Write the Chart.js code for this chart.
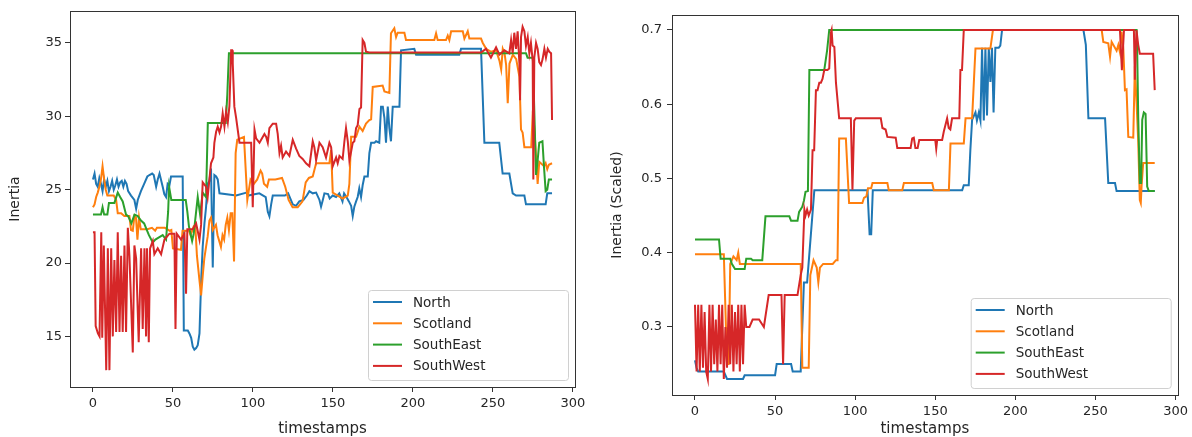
<!DOCTYPE html>
<html>
<head>
<meta charset="utf-8">
<script src="https://cdn.jsdelivr.net/npm/chart.js@4"></script>
<style>
  html, body { margin: 0; padding: 0; background: #fff; }
  #wrap { position: relative; width: 1192px; height: 437px; }
  canvas { position: absolute; top: 0; }
</style>
</head>
<body>
<div id="wrap">
  <canvas id="left" width="590" height="437" style="left:0"></canvas>
  <canvas id="right" width="602" height="437" style="left:590px"></canvas>
</div>
<script>
// region names and colours (matplotlib default cycle)
const regions = ["North", "Scotland", "SouthEast", "SouthWest"];
const regionColors = ["#1f77b4", "#ff7f0e", "#2ca02c", "#d62728"];

// tick labels
const xTicks = [0, 50, 100, 150, 200, 250, 300];
const inertiaTicks = [15, 20, 25, 30, 35];
const scaledTicks = [0.3, 0.4, 0.5, 0.6, 0.7];

// [timestamp, inertia]
const northInertia = [[0,25.7],[1,26.1],[2,25.4],[3,25.2],[4,25.8],[5,25.4],[6,24.9],[7,25.7],[8,25.2],[9,25.6],[10,24.9],[11,25.2],[12,25.6],[13,25.0],[14,25.3],[15,25.7],[16,25.2],[17,25.5],[18,25.6],[19,25.2],[20,25.6],[21,25.4],[22,24.9],[23.8,24.6],[25.9,24.3],[27,23.7],[28,24.3],[30,24.9],[32,25.4],[34,25.9],[35.3,26.0],[37,26.1],[38,26.0],[39.5,25.2],[40.5,25.7],[41.6,26.1],[43.6,25.2],[44.6,24.7],[45.7,24.5],[46.7,25.4],[47.8,25.3],[48.8,25.9],[56.1,25.9],[56.8,15.4],[59.3,15.4],[60.3,15.2],[61.4,14.9],[62.4,14.3],[63.4,14.1],[64.5,14.2],[65.5,14.4],[66.6,15.2],[67.6,18.7],[68.6,21.1],[69.7,22.7],[70.7,23.8],[71.7,25.4],[72.8,25.6],[73.8,26.45],[74.9,19.7],[75.9,26.0],[77,25.9],[78,25.7],[79.1,24.75],[89.5,24.6],[96,24.8],[97,24.6],[104,24.75],[108,24.5],[109.3,23.5],[110.3,23.2],[111.4,24.0],[112.4,24.6],[120,24.6],[122,24.75],[124.9,24.0],[127,23.9],[129,24.2],[131.6,24.3],[133.7,24.6],[135.3,24.9],[137.4,24.75],[139.5,24.8],[141.6,24.3],[142.6,23.84],[143.7,24.3],[144.7,24.75],[147,24.7],[148,24.4],[149.9,24.6],[152,24.5],[154,24.75],[156,24.2],[157,24.75],[159,24.4],[160,24.2],[161.4,23.9],[162.4,23.2],[163.4,23.84],[164.5,24.2],[165.5,24.5],[166.5,25.1],[167.6,24.5],[168.6,25.3],[169.7,25.9],[171.8,25.9],[172.8,27.5],[173.9,28.2],[176,28.2],[177,28.3],[179,28.2],[180.1,30.66],[181.2,30.66],[182.2,29.9],[183.2,28.2],[184.3,30.66],[185.3,29.2],[186.3,28.3],[187.4,30.66],[191.6,30.66],[192.6,34.5],[200.9,34.6],[202,34.2],[229,34.2],[230.1,34.6],[242.6,34.6],[244.7,28.2],[254,28.2],[256.1,26.1],[260.3,26.1],[262.4,24.75],[264.5,24.6],[269.7,24.6],[270.7,24.0],[283,24.0],[284,24.75],[287,24.75]];
const scotlandInertia = [[0,23.8],[1,24.0],[2,24.5],[3,24.8],[4,25.2],[5,25.7],[6,26.6],[7,25.7],[8,25.0],[9,24.6],[13,24.6],[14.5,24.3],[15.5,23.4],[17.6,23.4],[19.6,23.2],[22.8,23.2],[23.8,22.25],[24.9,22.2],[25.9,23.2],[26.9,23.1],[27.8,21.6],[28.8,23.1],[29.9,22.3],[34,22.3],[36.9,22.4],[38.9,22.2],[40,22.4],[45,22.4],[48,22.2],[49,22.25],[50,21.0],[55,20.9],[56,22.2],[60,22.2],[61,21.9],[63,22.5],[64,22.5],[65,20.5],[66.6,18.8],[67.6,17.8],[68.6,19.1],[69.6,20.3],[70.7,21.1],[71.7,21.8],[72.8,22.9],[73.8,23.1],[74.9,22.25],[76.9,22.6],[77.9,21.9],[80,21.1],[81,21.9],[82,21.6],[83,22.6],[84,23.1],[85,22.25],[86.1,23.4],[87.1,23.4],[88.2,20.1],[89.2,27.5],[90.2,28.4],[94.4,28.6],[96.5,24.3],[98.5,25.7],[100.6,25.4],[102.7,25.7],[104.8,26.3],[105.8,26.1],[106.9,25.4],[108.9,25.2],[110,25.7],[114,25.7],[118.2,25.8],[120.2,25.2],[122.3,24.3],[124.8,23.8],[128,23.8],[131,24.2],[133,25.5],[135,25.8],[137.4,25.9],[139.5,26.8],[147.8,26.8],[148.9,27.7],[149.9,24.8],[156.1,24.4],[159.3,24.6],[160.3,25.4],[161.4,28.6],[164.5,28.6],[166.6,29.3],[168.6,29.0],[170.7,29.5],[172.8,29.75],[173.9,29.8],[174.9,32.0],[181.1,32.1],[182.2,31.7],[185.3,31.6],[186.3,35.66],[188.4,36.0],[189.5,35.4],[190.5,35.7],[194.7,35.7],[195.7,35.2],[213.4,35.2],[214.5,35.66],[215.5,35.2],[220.7,35.2],[221.8,35.5],[222.8,35.2],[223.9,35.8],[231.2,35.8],[232.2,35.3],[234.3,35.8],[235.3,35.3],[242.6,35.3],[243.7,35.0],[245.8,34.6],[248.9,34.4],[252,34.5],[254.1,33.8],[255.2,33.2],[256.2,34.6],[257.3,34.3],[258.3,33.5],[259.3,30.9],[260.4,33.6],[262.5,34.2],[264.6,33.9],[266.6,32.7],[267.6,29.1],[268.6,28.9],[269.7,27.9],[274,27.9],[275,30.4],[276,29.1],[277,27.25],[278,25.4],[279,26.9],[280,26.8],[282,26.6],[283,26.8],[284,26.4],[285,26.7],[287,26.8]];
const southEastInertia = [[0,23.3],[5,23.3],[6,23.8],[7,23.3],[9,23.3],[10,24.1],[13.4,24.1],[15.5,24.8],[17,24.5],[18.6,24.2],[20.7,23.3],[22,23.2],[24,22.7],[26,23.3],[28,23.2],[30,22.9],[32,22.7],[33.5,22.3],[35,21.9],[37.4,21.4],[39,21.6],[40.5,21.7],[43.6,21.9],[45.7,21.6],[47,23.5],[47.6,25.2],[49,24.3],[58,24.3],[59,23.5],[60,22.5],[62,21.5],[63,22.0],[65.5,24.5],[67,23.3],[68.6,24.8],[70.7,24.5],[71.8,29.55],[83,29.55],[84,31.5],[85,34.3],[270.7,34.3],[271.7,34.0],[275,34.0],[276,30.0],[277,26.0],[278,27.0],[279,28.2],[281,28.3],[282,26.5],[283,24.9],[284,25.0],[285,25.7],[287,25.7]];
const southWestInertia = [[0,22.1],[1,22.1],[1.7,15.7],[3.1,15.2],[4.1,15.0],[5.2,22.1],[5.8,14.9],[6.8,21.2],[8.3,12.7],[9.3,21.0],[10.3,12.7],[11.4,21.0],[12.4,15.0],[13.4,20.2],[14.5,15.3],[15.5,22.1],[16.6,15.3],[17.6,20.5],[18.6,15.3],[19.7,21.2],[20.7,15.3],[21.8,22.4],[22.8,20.5],[24.9,13.9],[25.9,21.2],[27,20.3],[28.6,14.6],[30.1,21.0],[31.1,15.5],[32.2,21.0],[33.2,15.0],[33.8,21.0],[34.9,14.6],[35.7,21.0],[37.4,21.5],[38.4,20.6],[40.5,21.0],[42.6,20.6],[44.7,21.6],[47.8,22.0],[50.9,22.0],[51.6,15.5],[52.4,22.0],[55.1,21.6],[57.2,22.0],[58.2,17.9],[59,22.3],[62.4,22.3],[64.5,22.7],[66.6,21.6],[67.6,22.6],[68.6,25.5],[70.7,25.2],[71.7,24.5],[73.8,26.8],[75.3,27.2],[75.9,28.2],[77,28.95],[78,29.3],[79.1,28.9],[80.1,29.3],[81.1,30.2],[82.2,29.3],[83.2,30.3],[84.3,29.6],[85.3,30.7],[86.4,34.5],[87,34.5],[87.4,33.6],[88.4,30.66],[89.5,29.9],[91.6,28.2],[98.9,28.2],[99.9,23.8],[101,29.1],[102,28.5],[104.1,28.2],[107.2,28.8],[108.3,28.6],[109.3,28.2],[110.3,29.2],[112.4,29.5],[114.5,29.5],[115.5,28.8],[116.6,27.5],[117.6,28.0],[118.6,27.2],[120.7,27.6],[122.8,27.3],[124.9,28.4],[127,27.8],[129,27.3],[131.1,27.1],[133.2,26.8],[135.3,26.6],[137.4,28.3],[138.4,27.9],[139.5,27.0],[141.6,28.2],[143.6,27.9],[145.7,27.2],[147.8,28.2],[148.9,27.9],[149.9,26.6],[152,27.2],[153,26.8],[154.1,27.3],[156.1,27.1],[157.2,28.3],[158.2,29.2],[159.3,28.3],[160.3,27.0],[161.4,27.6],[162.4,28.2],[163.4,28.3],[164.5,29.2],[165.5,29.4],[166.6,30.5],[167.6,30.6],[168.6,35.2],[169.7,35.0],[170.7,34.4],[172.8,34.35],[242.6,34.35],[245.7,34.6],[248.8,34.0],[252,34.7],[254.1,34.2],[257.2,34.5],[260.3,34.3],[261.4,35.2],[262.4,34.3],[263.4,35.7],[264.5,34.6],[265.5,35.8],[266.6,33.6],[267,31.1],[267.6,35.4],[268.6,36.1],[269.7,35.8],[270.7,34.8],[271.8,35.4],[272.8,34.3],[273.8,35.0],[274.9,33.8],[275.3,25.7],[275.9,34.0],[277,35.0],[278,34.6],[279,33.7],[280.1,33.5],[281.1,33.9],[282.2,34.6],[283.2,34.0],[284.3,34.6],[285.3,34.4],[286.4,34.3],[287,29.75]];

// [timestamp, scaled inertia]
const northScaled = [[0,0.255],[1,0.245],[2,0.24],[18,0.24],[20,0.23],[30,0.23],[31,0.235],[50,0.235],[51,0.25],[60,0.25],[61,0.24],[66,0.24],[68,0.36],[70,0.36],[74.5,0.484],[107.7,0.484],[109,0.425],[110,0.425],[111,0.484],[166.8,0.484],[167.8,0.491],[170.9,0.491],[171.9,0.538],[173,0.579],[175.1,0.589],[176,0.578],[177.2,0.589],[178.2,0.578],[179.2,0.676],[180.3,0.578],[181.3,0.676],[182.3,0.585],[183.4,0.676],[184.4,0.63],[185.4,0.676],[186.4,0.589],[187.5,0.676],[189.6,0.676],[190.6,0.679],[191.7,0.7],[242.5,0.7],[244,0.68],[245.6,0.581],[256,0.581],[258,0.494],[262.2,0.494],[263.2,0.483],[287,0.483]];
const scotlandScaled = [[0,0.398],[18,0.398],[20,0.25],[21,0.25],[22,0.385],[24,0.395],[26,0.39],[27,0.4],[28,0.385],[66,0.385],[67,0.245],[71,0.245],[72,0.37],[74,0.39],[76,0.38],[77,0.36],[78,0.38],[80,0.385],[86,0.385],[88,0.39],[89,0.39],[90,0.554],[94.2,0.554],[96.2,0.467],[104.5,0.467],[105.5,0.474],[107,0.476],[108,0.487],[110,0.487],[110.8,0.494],[120.1,0.494],[121,0.484],[129.4,0.484],[130.4,0.494],[148.1,0.494],[149.1,0.484],[158.5,0.484],[159.5,0.547],[167.8,0.547],[168.9,0.581],[173,0.581],[175.1,0.675],[184.4,0.675],[186,0.7],[253.9,0.7],[254.9,0.684],[258,0.682],[259.1,0.664],[260.1,0.684],[263.2,0.672],[264.3,0.68],[265.3,0.67],[266.3,0.698],[267.4,0.675],[268.4,0.619],[269.4,0.62],[270.5,0.556],[273.6,0.555],[274.6,0.651],[275.5,0.61],[276.7,0.55],[277.7,0.471],[278.3,0.467],[278.8,0.49],[279.8,0.521],[287,0.521]];
const southEastScaled = [[0,0.418],[15,0.418],[16,0.392],[22,0.392],[23,0.385],[25,0.378],[31,0.378],[32,0.392],[35,0.392],[36,0.39],[42,0.39],[44,0.449],[58.9,0.449],[60,0.443],[64,0.443],[65,0.455],[67,0.462],[68,0.47],[69,0.482],[70.5,0.483],[71.4,0.646],[80.7,0.646],[82.5,0.673],[83.8,0.7],[275.7,0.7],[276,0.68],[276.7,0.583],[277.7,0.494],[278.5,0.494],[279.2,0.579],[280.2,0.589],[281.3,0.587],[282.3,0.489],[283.3,0.483],[287,0.483]];
const southWestScaled = [[0,0.33],[1,0.24],[2,0.33],[3,0.24],[4,0.33],[5,0.245],[6,0.32],[7,0.24],[8,0.23],[9,0.33],[10,0.24],[11,0.33],[12,0.25],[13,0.31],[14,0.24],[15,0.33],[16,0.25],[17,0.33],[18,0.23],[19,0.3],[20,0.245],[21,0.33],[22,0.25],[23,0.33],[24,0.24],[25,0.32],[26,0.25],[27,0.33],[28,0.24],[29,0.33],[30,0.25],[31,0.33],[32,0.3],[34,0.3],[36,0.31],[40,0.31],[43,0.3],[46,0.343],[54,0.343],[55,0.25],[56,0.343],[64,0.343],[66,0.37],[67,0.38],[68.3,0.458],[69,0.45],[70,0.458],[71,0.45],[72.4,0.458],[73.4,0.538],[74.4,0.538],[75.5,0.619],[76.5,0.619],[77.6,0.629],[78.6,0.629],[79.6,0.634],[80.7,0.646],[82.7,0.646],[83.8,0.648],[84.8,0.696],[85.3,0.7],[85.9,0.679],[87,0.677],[88,0.629],[90,0.581],[97.3,0.581],[98.3,0.485],[99.4,0.578],[100.4,0.581],[116,0.581],[117,0.568],[119,0.566],[120.1,0.556],[125.3,0.555],[126.3,0.541],[134.6,0.541],[135.6,0.554],[136.6,0.555],[137.6,0.541],[139,0.541],[140,0.552],[150,0.552],[150.6,0.54],[151.2,0.552],[154.3,0.552],[155.3,0.563],[157.4,0.581],[158.4,0.568],[159.4,0.566],[160.5,0.581],[165,0.581],[165.7,0.646],[166.7,0.646],[167.8,0.7],[265.3,0.7],[266.5,0.646],[267.8,0.7],[274,0.7],[274.6,0.633],[275.6,0.7],[276.7,0.68],[277.7,0.668],[286,0.668],[287,0.619]];

const FONT = "'DejaVu Sans', sans-serif";
const TEXT = "#262626";

// black box round the plot area, like matplotlib spines
const framePlugin = {
  id: "frame",
  afterDatasetsDraw(chart) {
    const { ctx, chartArea: a } = chart;
    ctx.save();
    ctx.strokeStyle = "#333";
    ctx.lineWidth = 1;
    ctx.strokeRect(Math.round(a.left) + 0.5, Math.round(a.top) + 0.5,
      Math.round(a.right - a.left), Math.round(a.bottom - a.top));
    ctx.restore();
  }
};

// legend box in the lower right corner of the plot area
const boxLegend = {
  id: "boxLegend",
  afterDraw(chart) {
    const { ctx, chartArea: a } = chart;
    const w = 200, h = 90;
    const x = a.right - 7 - w, y = a.bottom - 7 - h;
    ctx.save();
    ctx.beginPath();
    ctx.roundRect(x + 0.5, y + 0.5, w, h, 3);
    ctx.fillStyle = "rgba(255,255,255,0.8)";
    ctx.fill();
    ctx.strokeStyle = "#d0d0d0";
    ctx.lineWidth = 1;
    ctx.stroke();
    chart.data.datasets.forEach((ds, i) => {
      const cy = y + 12 + i * 21.3;
      ctx.beginPath();
      ctx.moveTo(x + 5, cy);
      ctx.lineTo(x + 34, cy);
      ctx.strokeStyle = ds.borderColor;
      ctx.lineWidth = 2;
      ctx.stroke();
      ctx.fillStyle = TEXT;
      ctx.font = "13.5px " + FONT;
      ctx.textBaseline = "middle";
      ctx.fillText(ds.label, x + 45, cy + 1);
    });
    ctx.restore();
  }
};

function makeChart(id, series, opt) {
  return new Chart(document.getElementById(id), {
    type: "line",
    data: {
      datasets: series.map((pts, i) => ({
        label: regions[i],
        data: pts.map(p => ({ x: p[0], y: p[1] })),
        borderColor: regionColors[i],
        borderWidth: 2,
        pointRadius: 0,
        tension: 0,
        fill: false,
        order: series.length - 1 - i
      }))
    },
    options: {
      responsive: false,
      animation: false,
      events: [],
      layout: { padding: { top: opt.top, right: opt.right, left: 0, bottom: 0 } },
      plugins: { legend: { display: false }, tooltip: { enabled: false } },
      scales: {
        x: {
          type: "linear",
          min: -14.35,
          max: 301.35,
          afterBuildTicks: s => { s.ticks = xTicks.map(v => ({ value: v })); },
          afterFit: s => { s.height = opt.xHeight; },
          border: { display: false },
          grid: { drawOnChartArea: false, tickLength: 5, tickColor: "#333", color: "#333" },
          ticks: { color: TEXT, font: { family: FONT, size: 13 }, padding: 4, maxRotation: 0, autoSkip: false },
          title: { display: true, text: "timestamps", color: TEXT, font: { family: FONT, size: 15, lineHeight: 1 }, padding: { top: 0, bottom: opt.xTitlePad } }
        },
        y: {
          type: "linear",
          min: opt.yMin,
          max: opt.yMax,
          afterBuildTicks: s => { s.ticks = opt.yTicks.map(v => ({ value: v })); },
          afterFit: s => { s.width = opt.yWidth; },
          border: { display: false },
          grid: { drawOnChartArea: false, tickLength: 5, tickColor: "#333", color: "#333" },
          ticks: { color: TEXT, font: { family: FONT, size: 13 }, padding: opt.yPad, autoSkip: false, callback: opt.fmt },
          title: { display: true, text: opt.yTitle, color: TEXT, font: { family: FONT, size: 14, lineHeight: 1 }, padding: { top: opt.yTitlePad, bottom: 0 } }
        }
      }
    },
    plugins: [framePlugin, boxLegend]
  });
}

makeChart("left", [northInertia, scotlandInertia, southEastInertia, southWestInertia], {
  top: 11, right: 15, xHeight: 50, yWidth: 70,
  yMin: 11.55, yMax: 37.18, yTicks: inertiaTicks, yPad: 3,
  fmt: v => String(v), yTitle: "Inertia", yTitlePad: 8, xTitlePad: 0
});

makeChart("right", [northScaled, scotlandScaled, southEastScaled, southWestScaled], {
  top: 15, right: 11, xHeight: 42, yWidth: 82,
  yMin: 0.2084, yMax: 0.7202, yTicks: scaledTicks, yPad: 5,
  fmt: v => v.toFixed(1), yTitle: "Inertia (Scaled)", yTitlePad: 20, xTitlePad: 0
});
</script>
</body>
</html>
